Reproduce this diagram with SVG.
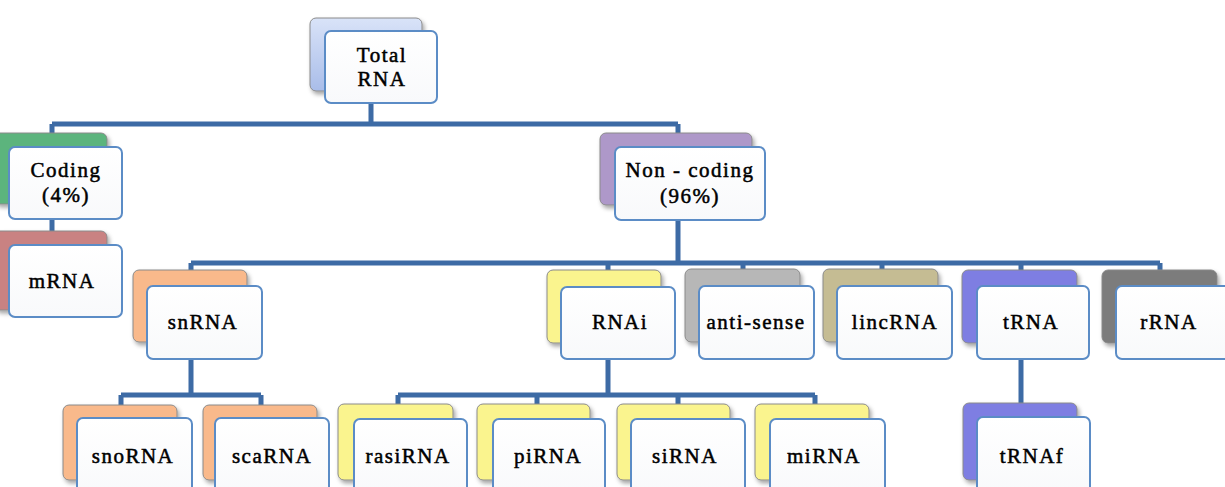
<svg xmlns="http://www.w3.org/2000/svg" width="1225" height="487" viewBox="0 0 1225 487">
<defs>
<linearGradient id="fg" x1="0" y1="0" x2="0" y2="1">
<stop offset="0" stop-color="#ffffff"/>
<stop offset="1" stop-color="#f8f9fb"/>
</linearGradient>
<linearGradient id="blueg" x1="0" y1="0" x2="0" y2="1">
<stop offset="0" stop-color="#d9e3f8"/>
<stop offset="1" stop-color="#a9bde9"/>
</linearGradient>
<filter id="sh" x="-10%" y="-10%" width="130%" height="130%">
<feDropShadow dx="2" dy="3" stdDeviation="2" flood-color="#000" flood-opacity="0.35"/>
</filter>
</defs>
<style>
.back{stroke:#8a8a8a;stroke-width:1;filter:url(#sh)}
.front{fill:url(#fg);stroke:#5b8cc6;stroke-width:2}
.t{font-family:"Liberation Serif","Times New Roman",serif;font-size:21px;letter-spacing:1.5px;fill:#000;stroke:#000;stroke-width:0.5;text-anchor:middle}
.c{fill:none;stroke:#3d6ba5;stroke-width:5}
</style>
<g id="connectors">
<path class="c" d="M371,103 V124 M52,124 H678 M52,124 V135 M678,124 V135"/>
<path class="c" d="M52,219 V232"/>
<path class="c" d="M678,220 V263 M191,263 H1160 M191,263 V272 M608,263 V272 M743,263 V272 M882,263 V272 M1021,263 V272 M1160,263 V272"/>
<path class="c" d="M191,359 V395 M121,395 H261 M121,395 V406 M261,395 V406"/>
<path class="c" d="M608,359 V395 M398,395 H815 M398,395 V406 M537,395 V406 M678,395 V406 M815,395 V406"/>
<path class="c" d="M1021,359 V405"/>
</g>
<g id="total">
<rect class="back" x="310" y="18" width="112" height="73" rx="6" fill="url(#blueg)"/>
<rect class="front" x="325" y="31" width="112" height="72" rx="6"/>
<text class="t" x="382" y="62">Total</text>
<text class="t" x="382" y="86">RNA</text>
</g>
<g id="coding">
<rect class="back" x="-6" y="133" width="113" height="71" rx="6" fill="#5bb47d"/>
<rect class="front" x="9" y="147" width="113" height="72" rx="6"/>
<text class="t" x="66" y="177">Coding</text>
<text class="t" x="66" y="202">(4%)</text>
</g>
<g id="mrna">
<rect class="back" x="-6" y="231" width="113" height="79" rx="6" fill="#c98282"/>
<rect class="front" x="9" y="245" width="113" height="72" rx="6"/>
<text class="t" x="62" y="288">mRNA</text>
</g>
<g id="noncoding">
<rect class="back" x="600" y="133" width="152" height="72" rx="6" fill="#ae98c9"/>
<rect class="front" x="615" y="147" width="150" height="73" rx="6"/>
<text class="t" x="690" y="177">Non - coding</text>
<text class="t" x="690" y="203">(96%)</text>
</g>
<g id="snrna">
<rect class="back" x="133" y="270" width="114" height="72" rx="6" fill="#f9b98b"/>
<rect class="front" x="147" y="286" width="115" height="73" rx="6"/>
<text class="t" x="203" y="329">snRNA</text>
</g>
<g id="rnai">
<rect class="back" x="547" y="270" width="114" height="73" rx="6" fill="#faf48e"/>
<rect class="front" x="561" y="287" width="114" height="72" rx="6"/>
<text class="t" x="620" y="329">RNAi</text>
</g>
<g id="antisense">
<rect class="back" x="685" y="269" width="115" height="73" rx="6" fill="#b7b7b7"/>
<rect class="front" x="699" y="286" width="115" height="73" rx="6"/>
<text class="t" x="756" y="329">anti-sense</text>
</g>
<g id="lincrna">
<rect class="back" x="823" y="269" width="115" height="73" rx="6" fill="#c5bc93"/>
<rect class="front" x="837" y="286" width="115" height="73" rx="6"/>
<text class="t" x="895" y="329">lincRNA</text>
</g>
<g id="trna">
<rect class="back" x="962" y="270" width="115" height="73" rx="6" fill="#7e7ee2"/>
<rect class="front" x="977" y="286" width="112" height="73" rx="6"/>
<text class="t" x="1031" y="329">tRNA</text>
</g>
<g id="rrna">
<rect class="back" x="1102" y="270" width="115" height="73" rx="6" fill="#7b7b7b"/>
<rect class="front" x="1116" y="286" width="115" height="73" rx="6"/>
<text class="t" x="1169" y="329">rRNA</text>
</g>
<g id="snorna">
<rect class="back" x="63" y="405" width="114" height="75" rx="6" fill="#f9b98b"/>
<rect class="front" x="77" y="418" width="115" height="80" rx="6"/>
<text class="t" x="133" y="463">snoRNA</text>
</g>
<g id="scarna">
<rect class="back" x="203" y="405" width="114" height="75" rx="6" fill="#f9b98b"/>
<rect class="front" x="215" y="418" width="114" height="80" rx="6"/>
<text class="t" x="272" y="463">scaRNA</text>
</g>
<g id="rasirna">
<rect class="back" x="338" y="404" width="115" height="76" rx="6" fill="#faf48e"/>
<rect class="front" x="354" y="419" width="113" height="80" rx="6"/>
<text class="t" x="408" y="463">rasiRNA</text>
</g>
<g id="pirna">
<rect class="back" x="477" y="404" width="113" height="76" rx="6" fill="#faf48e"/>
<rect class="front" x="493" y="419" width="112" height="80" rx="6"/>
<text class="t" x="548" y="463">piRNA</text>
</g>
<g id="sirna">
<rect class="back" x="617" y="404" width="113" height="76" rx="6" fill="#faf48e"/>
<rect class="front" x="631" y="419" width="114" height="80" rx="6"/>
<text class="t" x="685" y="463">siRNA</text>
</g>
<g id="mirna">
<rect class="back" x="755" y="404" width="114" height="76" rx="6" fill="#faf48e"/>
<rect class="front" x="770" y="419" width="115" height="80" rx="6"/>
<text class="t" x="824" y="463">miRNA</text>
</g>
<g id="trnaf">
<rect class="back" x="963" y="403" width="114" height="77" rx="6" fill="#7e7ee2"/>
<rect class="front" x="977" y="417" width="113" height="82" rx="6"/>
<text class="t" x="1032" y="463">tRNAf</text>
</g>
</svg>
